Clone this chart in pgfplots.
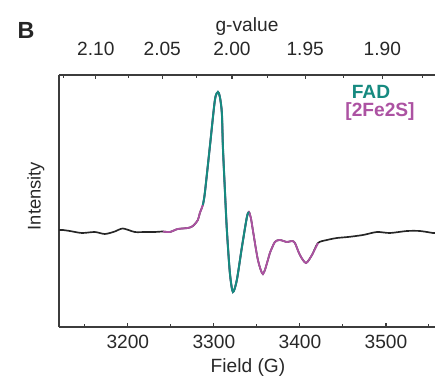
\documentclass[border=0pt]{standalone}
\usepackage{pgfplots}
\pgfplotsset{compat=1.18}
\usepackage{pgfplotstable}
\usepackage{fontspec}
\setmainfont{Liberation Sans}
\definecolor{teal1}{RGB}{22,138,128}
\definecolor{pink1}{RGB}{172,82,162}
\definecolor{axgray}{RGB}{60,60,60}
\definecolor{txtgray}{RGB}{40,40,40}

\pgfplotstableread{
B I
3119.8 0
3124.4 0
3132.6 -1
3146.5 -3
3161.6 -2
3173.3 -4
3184.9 -1.5
3194.2 1.5
3208.1 -2
3219.8 -2
3231.4 -2
3240.7 -1.5
3248.8 -2
3258.1 1
3269.8 2
3275.6 4
3281.4 10
3283.7 17
3287.2 25
3289.5 37
3295.3 83
3301.2 130
3304.7 138
3307.0 133
3309.3 117
3310.5 83
3312.8 40
3315.1 0
3318.6 -43
3322.1 -62
3326.7 -50
3332.6 -17
3338.4 13
3340.7 18
3343.0 12
3345.3 0
3351.2 -30
3357.0 -44
3362.8 -30
3365.1 -23
3370.9 -12
3376.7 -10
3384.9 -12
3390.7 -11
3394.2 -13
3400.0 -25
3407.0 -33
3414.0 -25
3421.0 -13
3431.4 -10
3443.0 -8
3455.8 -7
3473.3 -5
3489.5 -2
3504.7 -3
3524.4 -1
3539.5 -1
3554.7 -3
3558 -3
}\full

\pgfplotstableread{
B I
3240.7 -1.5
3248.8 -2
3258.1 1
3269.8 2
3275.6 4
3281.4 10
3283.7 17
3287.2 25
3289.5 37
3295.3 83
3301.2 130
3304.7 138
3307.0 133
3309.3 117
3310.5 83
3312.8 40
3315.1 0
3318.6 -43
3322.1 -62
3326.7 -50
3332.6 -17
3338.4 13
3340.7 18
3343.0 12
3345.3 0
3351.2 -30
3357.0 -44
3362.8 -30
3365.1 -23
3370.9 -12
3376.7 -10
3384.9 -12
3390.7 -11
3394.2 -13
3400.0 -25
3407.0 -33
3414.0 -25
3421.0 -13
}\pinkpart

\pgfplotstableread{
B I
3287.2 25
3289.5 37
3295.3 83
3301.2 130
3304.7 138
3307.0 133
3309.3 117
3310.5 83
3312.8 40
3315.1 0
3318.6 -43
3322.1 -62
3326.7 -50
3332.6 -17
3338.4 13
3340.7 18
}\tealpart

\begin{document}
\begin{tikzpicture}[font=\fontsize{11.5}{13}\selectfont]
\pgfplotsset{
  common/.style={
    width=225.6pt, height=151.2pt, scale only axis,
    xmin=3120, xmax=3557, ymin=-97, ymax=155,
    tick align=inside,
    major tick length=2.6pt, minor tick length=1.6pt,
    every tick/.style={axgray, line width=0.7pt},
    every minor tick/.style={axgray, line width=0.6pt},
    axis line style={axgray, line width=0.9pt},
    /pgf/number format/assume math mode=true,
    ticklabel style={text=txtgray, font=\fontsize{11.5}{13}\selectfont},
  }
}
\begin{axis}[common, name=main,
  axis x line*=bottom, axis y line*=left,
  xtick={3200,3300,3400,3500},
  minor xtick={3150,3250,3350,3450,3550},
  xticklabels={3200,3300,3400,3500},
  xticklabel style={anchor=center, yshift=-9pt},
  ytick=\empty,
]
\addplot[black!85, line width=1pt, smooth, tension=0.45] table[x=B, y=I] {\full};
\addplot[pink1, line width=1.1pt, smooth, tension=0.45] table[x=B, y=I] {\pinkpart};
\addplot[teal1, line width=1.2pt, smooth, tension=0.45] table[x=B, y=I] {\tealpart};
\end{axis}
\begin{axis}[common,
  axis x line*=top, axis y line=none,
  xtick={3162.86,3240.0,3321.0,3406.15,3495.79},
  xticklabels={2.10,2.05,2.00,1.95,1.90},
  minor xtick={3125.6,3200.96,3280.0,3362.8,3450.4,3542.4},
  xticklabel style={anchor=center, yshift=15.6pt},
  ytick=\empty,
]
\end{axis}
\node[text=txtgray] at ([shift={(188*0.6pt,300*0.6pt)}]main.south west) {g-value};
\node[text=txtgray] at ([shift={(189*0.6pt,-41*0.6pt)}]main.south west) {Field (G)};
\node[text=txtgray, rotate=90, font=\fontsize{11}{13}\selectfont] at ([shift={(-23*0.6pt,131*0.6pt)}]main.south west) {Intensity};
\node[font=\fontsize{14}{16}\selectfont\bfseries, text=black!85] at ([shift={(-33*0.6pt,297*0.6pt)}]main.south west) {B};
\node[font=\fontsize{11.5}{13}\selectfont\bfseries, text=teal1] at ([shift={(312*0.6pt,235*0.6pt)}]main.south west) {FAD};
\node[font=\fontsize{11.5}{13}\selectfont\bfseries, text=pink1] at ([shift={(321*0.6pt,215*0.6pt)}]main.south west) {[2Fe2S]};
\pgfresetboundingbox
\path ([shift={(-59*0.6pt,-53*0.6pt)}]main.south west) rectangle ([shift={(376*0.6pt,327*0.6pt)}]main.south west);
\end{tikzpicture}
\end{document}
